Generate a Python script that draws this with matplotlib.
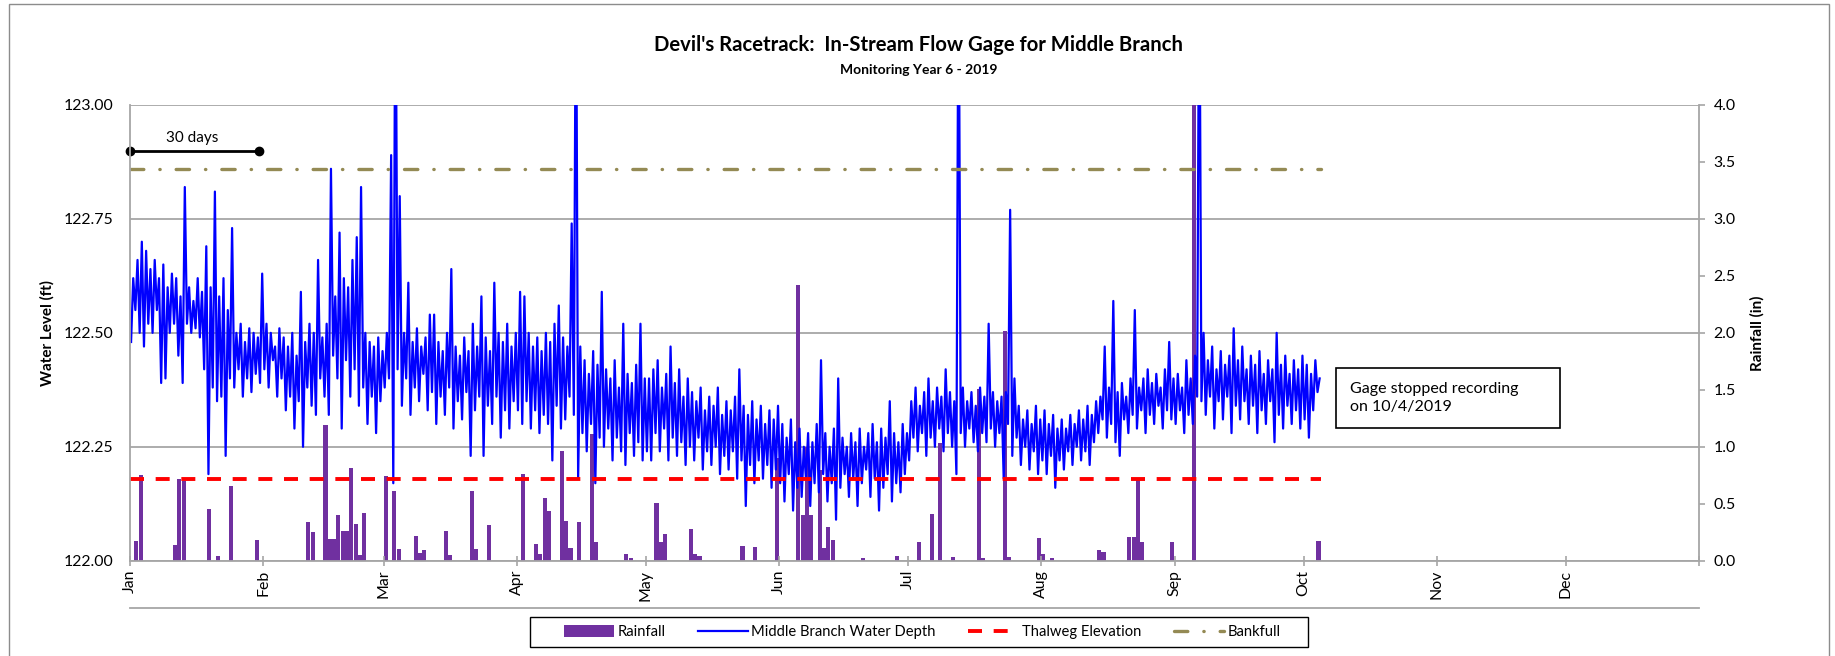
import numpy as np
import matplotlib
matplotlib.use("Agg")
import matplotlib.pyplot as plt
from matplotlib.lines import Line2D
from matplotlib.patches import Patch, Rectangle
from matplotlib.ticker import MultipleLocator, FormatStrFormatter

plt.rcParams['font.family'] = ['Lato', 'DejaVu Sans']

# --- data ---
year_start = '2019-01-01'
year_end = '2020-01-01'
gage_stop = '2019-10-04'

thalweg_ft = 122.18
bankfull_ft = 122.86
scale_bar_days = 30

month_labels = ['Jan', 'Feb', 'Mar', 'Apr', 'May', 'Jun', 'Jul', 'Aug',
                'Sep', 'Oct', 'Nov', 'Dec', '']

# daily high / low of the water depth (ft), Jan 1 .. Oct 4
hi_jan = [122.62, 122.66, 122.70, 122.68, 122.64, 122.66, 122.62, 122.65, 122.60, 122.63,
          122.62, 122.58, 122.82, 122.60, 122.57, 122.62, 122.59, 122.69, 122.60, 122.81,
          122.58, 122.62, 122.55, 122.73, 122.50, 122.52, 122.48, 122.51, 122.50, 122.49, 122.63]
lo_jan = [122.48, 122.55, 122.50, 122.47, 122.52, 122.50, 122.55, 122.39, 122.40, 122.50,
          122.52, 122.45, 122.39, 122.52, 122.50, 122.51, 122.49, 122.42, 122.19, 122.38,
          122.35, 122.36, 122.23, 122.40, 122.38, 122.42, 122.36, 122.40, 122.37, 122.41, 122.39]
hi_feb = [122.52, 122.50, 122.47, 122.51, 122.49, 122.47, 122.50, 122.45, 122.59, 122.48,
          122.52, 122.50, 122.66, 122.49, 122.52, 122.86, 122.58, 122.72, 122.62, 122.60,
          122.66, 122.71, 122.82, 122.50, 122.48, 122.47, 122.49, 122.46]
lo_feb = [122.42, 122.38, 122.44, 122.36, 122.40, 122.33, 122.36, 122.29, 122.35, 122.25,
          122.38, 122.34, 122.32, 122.40, 122.36, 122.32, 122.45, 122.40, 122.29, 122.44,
          122.36, 122.42, 122.34, 122.38, 122.30, 122.36, 122.28, 122.35]
hi_mar = [122.50, 122.89, 123.40, 122.80, 122.50, 122.61, 122.48, 122.51, 122.47, 122.49,
          122.54, 122.54, 122.48, 122.46, 122.50, 122.64, 122.47, 122.45, 122.49, 122.46,
          122.52, 122.47, 122.58, 122.49, 122.46, 122.61, 122.50, 122.48, 122.52, 122.47, 122.50]
lo_mar = [122.38, 122.40, 122.17, 122.42, 122.34, 122.40, 122.32, 122.38, 122.35, 122.41,
          122.33, 122.37, 122.30, 122.36, 122.32, 122.38, 122.29, 122.35, 122.31, 122.37,
          122.23, 122.33, 122.36, 122.23, 122.34, 122.30, 122.36, 122.27, 122.33, 122.29, 122.35]
hi_apr = [122.59, 122.58, 122.50, 122.47, 122.49, 122.46, 122.50, 122.48, 122.52, 122.56,
          122.49, 122.47, 122.74, 123.40, 122.47, 122.44, 122.41, 122.46, 122.43, 122.59,
          122.42, 122.40, 122.44, 122.38, 122.52, 122.41, 122.39, 122.43, 122.52, 122.40]
lo_apr = [122.33, 122.30, 122.35, 122.29, 122.33, 122.28, 122.32, 122.30, 122.22, 122.34,
          122.29, 122.31, 122.36, 122.32, 122.18, 122.28, 122.24, 122.30, 122.17, 122.27,
          122.25, 122.29, 122.22, 122.27, 122.24, 122.21, 122.28, 122.23, 122.26, 122.22]
hi_may = [122.40, 122.42, 122.44, 122.38, 122.41, 122.47, 122.39, 122.42, 122.36, 122.40,
          122.37, 122.35, 122.38, 122.33, 122.36, 122.34, 122.38, 122.32, 122.35, 122.33,
          122.36, 122.42, 122.34, 122.32, 122.35, 122.31, 122.34, 122.30, 122.33, 122.31, 122.34]
lo_may = [122.24, 122.22, 122.28, 122.24, 122.29, 122.22, 122.27, 122.23, 122.26, 122.21,
          122.25, 122.22, 122.27, 122.20, 122.24, 122.21, 122.25, 122.19, 122.23, 122.20,
          122.24, 122.18, 122.22, 122.12, 122.21, 122.17, 122.22, 122.18, 122.21, 122.16, 122.20]
hi_jun = [122.30, 122.27, 122.31, 122.26, 122.29, 122.25, 122.28, 122.26, 122.30, 122.44,
          122.28, 122.25, 122.29, 122.40, 122.27, 122.25, 122.28, 122.26, 122.29, 122.25,
          122.28, 122.30, 122.26, 122.29, 122.27, 122.35, 122.28, 122.26, 122.30, 122.28]
lo_jun = [122.17, 122.13, 122.19, 122.11, 122.16, 122.14, 122.18, 122.12, 122.17, 122.15,
          122.19, 122.13, 122.17, 122.09, 122.16, 122.19, 122.14, 122.18, 122.12, 122.17,
          122.20, 122.14, 122.18, 122.11, 122.16, 122.19, 122.13, 122.17, 122.15, 122.19]
hi_jul = [122.35, 122.38, 122.34, 122.37, 122.40, 122.35, 122.38, 122.36, 122.42, 122.37,
          122.35, 123.40, 122.38, 122.35, 122.37, 122.34, 122.38, 122.36, 122.52, 122.37,
          122.35, 122.36, 122.37, 122.77, 122.40, 122.34, 122.31, 122.33, 122.30, 122.34, 122.31]
lo_jul = [122.22, 122.27, 122.24, 122.28, 122.23, 122.27, 122.25, 122.29, 122.24, 122.28,
          122.25, 122.19, 122.28, 122.25, 122.29, 122.26, 122.24, 122.28, 122.26, 122.29,
          122.25, 122.28, 122.18, 122.30, 122.23, 122.27, 122.21, 122.25, 122.20, 122.24, 122.19]
hi_aug = [122.33, 122.30, 122.32, 122.29, 122.31, 122.29, 122.32, 122.30, 122.33, 122.31,
          122.34, 122.32, 122.35, 122.36, 122.47, 122.38, 122.57, 122.37, 122.39, 122.36,
          122.40, 122.55, 122.38, 122.40, 122.42, 122.39, 122.41, 122.38, 122.42, 122.48, 122.40]
lo_aug = [122.22, 122.19, 122.23, 122.16, 122.22, 122.20, 122.24, 122.21, 122.25, 122.22,
          122.24, 122.21, 122.26, 122.28, 122.31, 122.27, 122.30, 122.26, 122.23, 122.31,
          122.28, 122.32, 122.29, 122.33, 122.28, 122.32, 122.30, 122.34, 122.29, 122.33, 122.31]
hi_sep = [122.41, 122.38, 122.44, 122.40, 122.45, 123.40, 122.50, 122.44, 122.47, 122.42,
          122.46, 122.43, 122.45, 122.51, 122.44, 122.47, 122.42, 122.45, 122.43, 122.46,
          122.41, 122.44, 122.42, 122.50, 122.43, 122.45, 122.41, 122.44, 122.42, 122.45]
lo_sep = [122.30, 122.33, 122.28, 122.32, 122.30, 122.36, 122.35, 122.32, 122.36, 122.29,
          122.35, 122.31, 122.36, 122.28, 122.34, 122.31, 122.35, 122.30, 122.34, 122.28,
          122.33, 122.30, 122.35, 122.26, 122.32, 122.29, 122.34, 122.30, 122.33, 122.29]
hi_oct = [122.43, 122.41, 122.44, 122.40]
lo_oct = [122.31, 122.27, 122.33, 122.37]

# daily rainfall (in)
rain_dates = ['01-02', '01-03', '01-11', '01-12', '01-13', '01-19', '01-21', '01-24', '01-30',
              '02-11', '02-12', '02-15', '02-16', '02-17', '02-18', '02-19', '02-20', '02-21',
              '02-22', '02-23', '02-24',
              '03-01', '03-03', '03-04', '03-08', '03-09', '03-10', '03-15', '03-16', '03-21',
              '03-22', '03-25',
              '04-02', '04-05', '04-06', '04-07', '04-08', '04-11', '04-12', '04-13', '04-15',
              '04-18', '04-19', '04-26', '04-27',
              '05-03', '05-04', '05-05', '05-11', '05-12', '05-13', '05-23', '05-26', '05-31',
              '06-05', '06-06', '06-07', '06-08', '06-10', '06-11', '06-12', '06-13', '06-20',
              '06-28',
              '07-03', '07-06', '07-08', '07-11', '07-17', '07-18', '07-23', '07-24', '07-31',
              '08-01', '08-03', '08-14', '08-15', '08-21', '08-22', '08-23', '08-24', '08-31',
              '09-05', '10-04']
rain_in = [0.17, 0.75, 0.14, 0.72, 0.70, 0.45, 0.04, 0.66, 0.18,
           0.34, 0.25, 1.19, 0.19, 0.19, 0.40, 0.26, 0.26, 0.81,
           0.32, 0.05, 0.42,
           0.74, 0.61, 0.10, 0.22, 0.07, 0.09, 0.26, 0.05, 0.61,
           0.10, 0.31,
           0.76, 0.15, 0.06, 0.55, 0.44, 0.96, 0.35, 0.11, 0.34,
           1.11, 0.16, 0.06, 0.02,
           0.51, 0.16, 0.23, 0.28, 0.06, 0.045, 0.13, 0.12, 0.90,
           2.42, 0.40, 1.00, 0.40, 0.80, 0.11, 0.30, 0.18, 0.02,
           0.04,
           0.16, 0.41, 1.03, 0.03, 1.51, 0.02, 2.02, 0.03, 0.20,
           0.06, 0.02, 0.09, 0.08, 0.21, 0.21, 0.71, 0.16, 0.16,
           4.50, 0.17]

# --- prepare ---
depth_hi = np.concatenate([hi_jan, hi_feb, hi_mar, hi_apr, hi_may, hi_jun, hi_jul, hi_aug, hi_sep, hi_oct])
depth_lo = np.concatenate([lo_jan, lo_feb, lo_mar, lo_apr, lo_may, lo_jun, lo_jul, lo_aug, lo_sep, lo_oct])
t0 = np.datetime64(year_start)
t_end = np.datetime64(year_end)
t_stop = np.datetime64(gage_stop)
days = np.arange(t0, t_stop + 1)
t_depth = np.empty(2 * len(days), dtype='datetime64[h]')
t_depth[0::2] = days + np.timedelta64(6, 'h')
t_depth[1::2] = days + np.timedelta64(18, 'h')
depth = np.empty(2 * len(days))
depth[0::2] = depth_lo
depth[1::2] = depth_hi
rain_t = np.array(['2019-' + d for d in rain_dates], dtype='datetime64[D]')
month_starts = np.arange(np.datetime64('2019-01'), np.datetime64('2020-02')).astype('datetime64[D]')

GRID = '#A6A6A6'
PURPLE = '#7030A0'
OLIVE = '#948A54'
W, H = 1835, 656

fig = plt.figure(figsize=(W / 100, H / 100), dpi=100)
ax = fig.add_axes([130 / W, 95.3 / H, 1569 / W, 455.7 / H])
ax2 = ax.twinx()
ax.set_zorder(ax2.get_zorder() + 1)
ax.patch.set_visible(False)

# rainfall bars (behind)
ax2.bar(rain_t, rain_in, width=np.timedelta64(23, 'h'), align='edge', color=PURPLE, zorder=2)
ax2.set_ylim(0, 4)
ax2.yaxis.set_major_locator(MultipleLocator(1.0))
ax2.yaxis.set_minor_locator(MultipleLocator(0.5))
ax2.yaxis.set_major_formatter(FormatStrFormatter('%.1f'))
ax2.yaxis.set_minor_formatter(FormatStrFormatter('%.1f'))
ax2.set_axisbelow(True)
ax2.yaxis.grid(True, which='major', color=GRID, lw=1.3)
ax2.tick_params(axis='y', which='both', direction='out', length=4.5, width=1.2,
                color=GRID, labelsize=11.4, pad=6)
for s in ['top', 'left', 'bottom']:
    ax2.spines[s].set_visible(False)
ax2.spines['right'].set_color(GRID)
ax2.spines['right'].set_linewidth(1.3)

# water level lines
ax.plot(t_depth, depth, color='#0000FF', lw=1.6)
ax.plot([t0, t_stop + 1], [thalweg_ft] * 2, color='#FF0000', lw=2.8, dashes=(3.6, 3.0))
ax.plot([t0, t_stop + 1], [bankfull_ft] * 2, color=OLIVE, lw=2.4,
        dashes=(4, 4.8, 0.1, 4.8), dash_capstyle='round')

# 30 day scale bar
ax.plot([t0, t0 + scale_bar_days], [122.90] * 2, color='black', lw=2, marker='o', ms=6,
        clip_on=False)
ax.text(t0 + np.timedelta64(14 * 24 + 12, 'h'), 122.928, f'{scale_bar_days} days',
        ha='center', va='center', fontsize=11)

ax.set_xlim(t0, t_end)
ax.set_ylim(122.0, 123.0)
ax.set_yticks(np.arange(122.0, 123.01, 0.25))
ax.yaxis.set_major_formatter(FormatStrFormatter('%.2f'))
ax.tick_params(axis='y', length=0, pad=12, labelsize=11.4)
ax.set_xticks(month_starts)
ax.set_xticklabels(month_labels, rotation=90)
ax.tick_params(axis='x', direction='inout', length=7, width=1.2, color=GRID,
               labelsize=11.4, pad=3)
for s in ['top', 'right']:
    ax.spines[s].set_visible(False)
for s in ['left', 'bottom']:
    ax.spines[s].set_color(GRID)
    ax.spines[s].set_linewidth(1.3)
ax.plot([0, 1], [-0.103, -0.103], transform=ax.transAxes, clip_on=False, color=GRID, lw=1.3)

# titles and axis labels
fig.text(919 / W, 1 - 45 / H, "Devil's Racetrack:  In-Stream Flow Gage for Middle Branch",
         ha='center', va='center', fontsize=14.6, weight='bold')
fig.text(919 / W, 1 - 70 / H, 'Monitoring Year 6 - 2019', ha='center', va='center',
         fontsize=10, weight='bold')
fig.text(47 / W, 1 - 333 / H, 'Water Level (ft)', rotation=90, ha='center', va='center',
         fontsize=11, weight='bold')
fig.text(1757 / W, 1 - 333 / H, 'Rainfall (in)', rotation=90, ha='center', va='center',
         fontsize=11, weight='bold')

# note box
fig.add_artist(Rectangle((1336 / W, 1 - 428 / H), 224 / W, 60 / H, transform=fig.transFigure,
                         fill=False, edgecolor='black', lw=1.2))
fig.text(1350 / W, 1 - 398 / H, 'Gage stopped recording\non 10/4/2019', ha='left', va='center',
         fontsize=11.5, linespacing=1.45)

# outer chart border
fig.add_artist(Rectangle((9 / W, -0.05), 1820 / W, 1.05 - 4.5 / H, transform=fig.transFigure,
                         fill=False, edgecolor='#8C8C8C', lw=1))

# legend with its own frame
fig.add_artist(Rectangle((530 / W, 1 - 647 / H), 778 / W, 30 / H, transform=fig.transFigure,
                         fill=False, edgecolor='black', lw=1.0))
handles = [Patch(facecolor=PURPLE, label='Rainfall'),
           Line2D([], [], color='#0000FF', lw=1.6, label='Middle Branch Water Depth'),
           Line2D([], [], color='#FF0000', lw=2.8, dashes=(3.6, 3.0), label='Thalweg Elevation'),
           Line2D([], [], color=OLIVE, lw=2.4, dashes=(4, 4.8, 0.1, 4.8),
                  dash_capstyle='round', label='Bankfull')]
fig.legend(handles=handles, loc='center', bbox_to_anchor=(922 / W, 1 - 632 / H), ncol=4,
           frameon=False, fontsize=10.6, handlelength=3.4, handletextpad=0.25,
           columnspacing=2.2, borderpad=0.2, handleheight=0.9)

fig.savefig('out.png', dpi=100)
